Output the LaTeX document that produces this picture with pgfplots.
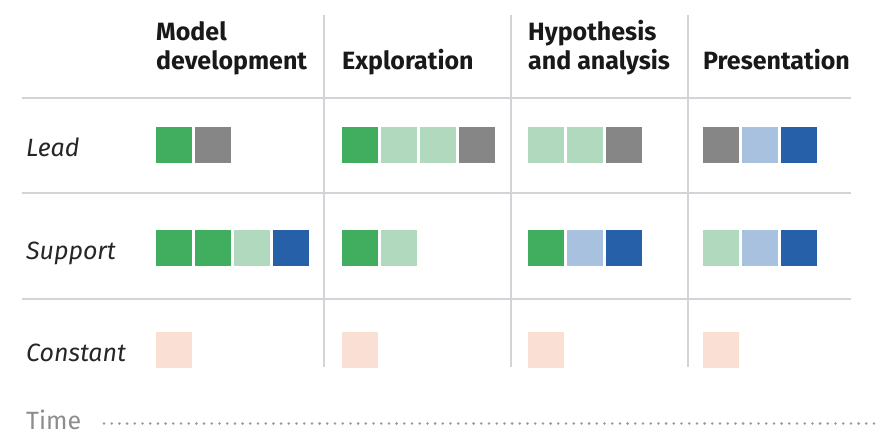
\documentclass[border=0pt]{standalone}
\usepackage{pgfplots}
\pgfplotsset{compat=1.18}
\usepackage{fontspec}
\setmainfont{Fira Sans}
\definecolor{dg}{HTML}{41AD5F}
\definecolor{lg}{HTML}{B0D9BD}
\definecolor{gr}{HTML}{868686}
\definecolor{lb}{HTML}{A7C1DE}
\definecolor{db}{HTML}{2660A9}
\definecolor{pc}{HTML}{FAE0D4}
\definecolor{gridc}{HTML}{D3D3DA}
\begin{document}
\begin{tikzpicture}
\begin{axis}[scale only axis, width=879pt, height=436pt,
  xmin=0, xmax=879, ymin=0, ymax=436, y dir=reverse,
  hide axis, clip=false,
  sq/.style={only marks, mark=square*, mark size=17.5pt, color=#1, mark options={line width=0pt, draw=#1, fill=#1}}]
\path (axis cs:0,0) (axis cs:879,436);
% grid lines
\addplot[gridc, line width=2pt] coordinates {(22,98) (851,98)};
\addplot[gridc, line width=2pt] coordinates {(22,193) (851,193)};
\addplot[gridc, line width=2pt] coordinates {(22,298.5) (851,298.5)};
\addplot[gridc, line width=2pt] coordinates {(323.5,15) (323.5,367)};
\addplot[gridc, line width=2pt] coordinates {(510.5,15) (510.5,367)};
\addplot[gridc, line width=2pt] coordinates {(687.5,15) (687.5,367)};
% squares
\addplot[sq=dg] coordinates {
(173.5,145.2) (359.5,145.2) (173.5,248) (212.5,248) (359.5,248) (546,248)};
\addplot[sq=lg] coordinates {
(398.5,145.2) (437.5,145.2) (546,145.2) (585,145.2) (251.5,248) (398.5,248) (721,248)};
\addplot[sq=gr] coordinates {
(212.5,145.2) (476.5,145.2) (624,145.2) (721,145.2)};
\addplot[sq=lb] coordinates {
(760,145.2) (585,248) (760,248)};
\addplot[sq=db] coordinates {
(799,145.2) (290.5,248) (624,248) (799,248)};
\addplot[sq=pc] coordinates {
(173.5,349.5) (359.5,349.5) (546,349.5) (721,349.5)};
% time dotted line
\addplot[color=black!40, line width=2.8pt, line cap=round, dash pattern=on 0pt off 7.7pt] coordinates {(104,423.5) (877,423.5)};
% headers
\begin{scope}[every node/.style={inner sep=0pt, font=\fontsize{25}{28}\selectfont\bfseries, text=black!90}]
\node[anchor=base west] at (axis cs:156,41) {Model};
\node[anchor=base west] at (axis cs:156,70) {development};
\node[anchor=base west] at (axis cs:342,70) {Exploration};
\node[anchor=base west] at (axis cs:528,41) {Hypothesis};
\node[anchor=base west] at (axis cs:528,70) {and analysis};
\node[anchor=base west] at (axis cs:703,70) {Presentation};
\end{scope}
\begin{scope}[every node/.style={inner sep=0pt, font=\fontsize{25}{28}\selectfont\itshape, text=black!85}]
\node[anchor=base west] at (axis cs:26,157) {Lead};
\node[anchor=base west] at (axis cs:26,259) {Support};
\node[anchor=base west] at (axis cs:26,361) {Constant};
\end{scope}
\node[anchor=base west, inner sep=0pt, font=\fontsize{25}{28}\selectfont, text=black!45] at (axis cs:26,429) {Time};
\end{axis}
\end{tikzpicture}
\end{document}
